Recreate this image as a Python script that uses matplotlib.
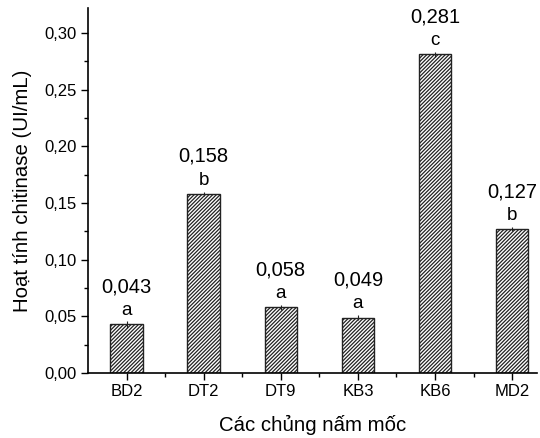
import numpy as np
import matplotlib.pyplot as plt

plt.rcParams['font.family'] = ['Liberation Sans', 'DejaVu Sans']
plt.rcParams['hatch.color'] = '#2a2a2a'
plt.rcParams['hatch.linewidth'] = 0.9

strains = ['BD2', 'DT2', 'DT9', 'KB3', 'KB6', 'MD2']
activity = [0.043, 0.158, 0.058, 0.049, 0.281, 0.127]
err = [0.003, 0.002, 0.002, 0.002, 0.002, 0.002]
groups = ['a', 'b', 'a', 'a', 'c', 'b']

fig = plt.figure(figsize=(5.4, 4.38), dpi=100)
ax = fig.add_axes([0.163, 0.148, 0.831, 0.834])

x = np.arange(len(strains))
ax.bar(x, activity, width=0.42, color='white', edgecolor='#222222',
       linewidth=1.0, hatch='/////////')
ax.errorbar(x, activity, yerr=err, fmt='none', ecolor='#222222',
            elinewidth=0.8, capsize=0)

# significance letter just above each bar, value text above it
for xi, v, g in zip(x, activity, groups):
    ax.annotate(g, (xi, v), xytext=(0, 10), textcoords='offset points',
                ha='center', va='center', fontsize=13.5)
    ax.annotate(('%.3f' % v).replace('.', ','), (xi, v), xytext=(0, 27),
                textcoords='offset points', ha='center', va='center', fontsize=14.5)

ax.set_xlim(-0.5, 5.32)
ax.set_ylim(0, 0.322)
ax.set_xticks(x)
ax.set_xticklabels(strains)
ax.set_xticks(x[:-1] + 0.5, minor=True)
ax.set_yticks(np.arange(0, 0.31, 0.05))
ax.set_yticks(np.arange(0.025, 0.32, 0.05), minor=True)
ax.set_yticklabels([('%.2f' % t).replace('.', ',') for t in np.arange(0, 0.31, 0.05)])

for s in ['top', 'right']:
    ax.spines[s].set_visible(False)
for s in ['left', 'bottom']:
    ax.spines[s].set_linewidth(1.2)
ax.tick_params(which='major', direction='out', length=5, width=1.0,
               labelsize=12, pad=3)
ax.tick_params(which='minor', direction='out', length=3, width=1.0)

ax.set_xlabel('Các chủng nấm mốc', fontsize=14.7, labelpad=11)
ax.set_ylabel('Hoạt tính chitinase (UI/mL)', fontsize=14.7, labelpad=9)

fig.savefig('out.png', dpi=100)
